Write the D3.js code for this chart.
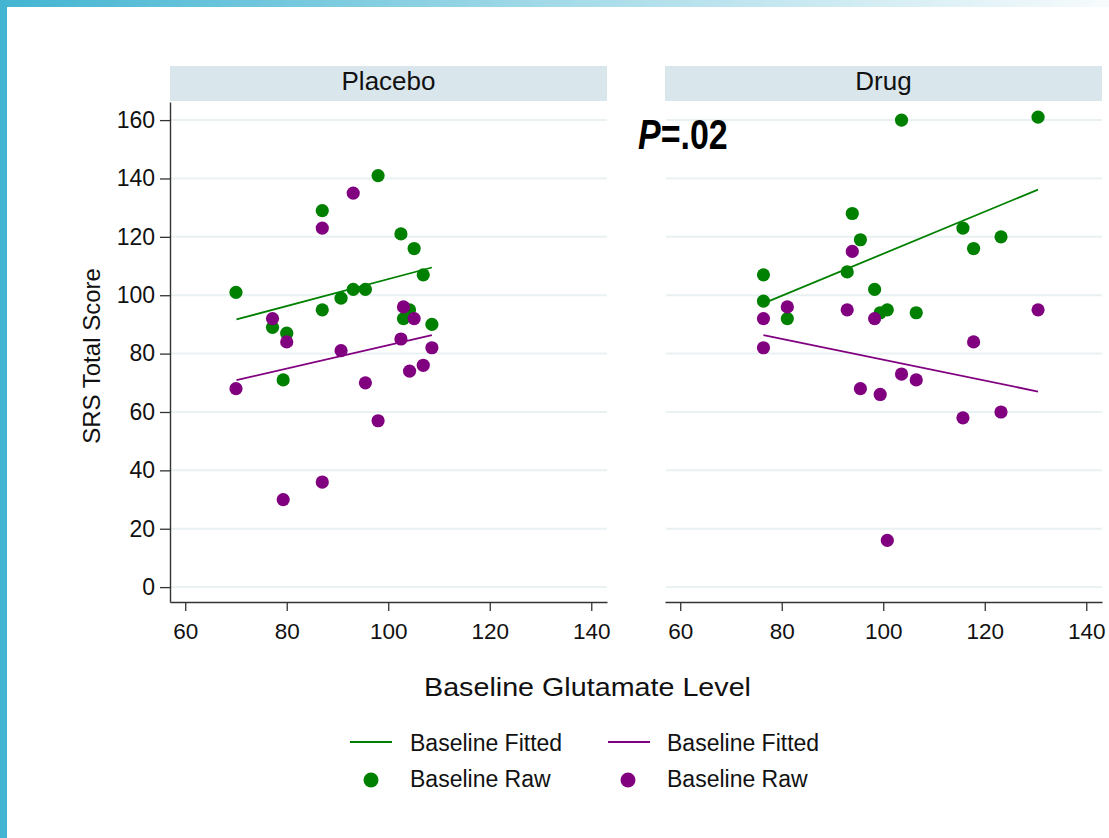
<!DOCTYPE html>
<html>
<head>
<meta charset="utf-8">
<script src="https://cdn.jsdelivr.net/npm/d3@7"></script>
<style>
  html, body { margin: 0; padding: 0; background: #ffffff; }
  svg { display: block; font-family: "Liberation Sans", Arial, Helvetica, sans-serif; }
</style>
</head>
<body>
<svg id="chart" width="1109" height="838"></svg>
<script>
// Panels and axis ticks
const panels = ["Placebo", "Drug"];
const yTicks = [0, 20, 40, 60, 80, 100, 120, 140, 160];
const xTicks = [60, 80, 100, 120, 140];

// Placebo group: baseline glutamate level vs SRS total score
const placeboGreenX = [70.0, 77.2, 79.3, 80.0, 87.0, 87.0, 90.7, 93.1, 95.5, 98.0, 102.5, 103.0, 104.2, 105.1, 106.9, 108.6];
const placeboGreenY = [101, 89, 71, 87, 95, 129, 99, 102, 102, 141, 121, 92, 95, 116, 107, 90];
const placeboPurpleX = [70.0, 77.2, 79.3, 80.0, 87.0, 87.0, 90.7, 93.1, 95.5, 98.0, 102.5, 103.0, 104.2, 105.1, 106.9, 108.6];
const placeboPurpleY = [68, 92, 30, 84, 123, 36, 81, 135, 70, 57, 85, 96, 74, 92, 76, 82];

// Drug group
const drugGreenX = [76.4, 76.4, 81.1, 92.9, 93.9, 95.5, 98.3, 99.4, 100.8, 103.6, 106.5, 115.7, 117.8, 123.2, 130.5];
const drugGreenY = [107, 98, 92, 108, 128, 119, 102, 94, 95, 160, 94, 123, 116, 120, 161];
const drugPurpleX = [76.4, 76.4, 81.1, 92.9, 93.9, 95.5, 98.3, 99.4, 100.8, 103.6, 106.5, 115.7, 117.8, 123.2, 130.5];
const drugPurpleY = [92, 82, 96, 95, 115, 68, 92, 66, 16, 73, 71, 58, 84, 60, 95];

// Fitted lines: [x0, y0, x1, y1]
const placeboGreenFit = [70.1, 91.7, 108.6, 109.5];
const placeboPurpleFit = [70.1, 70.9, 108.6, 86.3];
const drugGreenFit = [76.4, 97.2, 130.5, 136.2];
const drugPurpleFit = [76.4, 86.3, 130.5, 67.0];

const legendLabels = ["Baseline Fitted", "Baseline Raw"];
const pValueText = ["P", "=.02"];

const GREEN = "#008000";
const PURPLE = "#800080";

const svg = d3.select("#chart");

// Frame: accent bar on the left and a fading band across the top
const defs = svg.append("defs");
const grad = defs.append("linearGradient").attr("id", "topband").attr("x1", "0").attr("x2", "1");
grad.append("stop").attr("offset", "0").attr("stop-color", "#43b5d2");
grad.append("stop").attr("offset", "0.5").attr("stop-color", "#a3dae8");
grad.append("stop").attr("offset", "1").attr("stop-color", "#f7fbfc");
svg.append("rect").attr("x", 0).attr("y", 0).attr("width", 1109).attr("height", 7).attr("fill", "url(#topband)");
svg.append("rect").attr("x", 0).attr("y", 0).attr("width", 7).attr("height", 838).attr("fill", "#43b5d2");

const panelData = [
  { name: panels[0], range: [170, 607],
    series: [
      { x: placeboGreenX, y: placeboGreenY, color: GREEN, fit: placeboGreenFit },
      { x: placeboPurpleX, y: placeboPurpleY, color: PURPLE, fit: placeboPurpleFit }
    ] },
  { name: panels[1], range: [665, 1102],
    series: [
      { x: drugGreenX, y: drugGreenY, color: GREEN, fit: drugGreenFit },
      { x: drugPurpleX, y: drugPurpleY, color: PURPLE, fit: drugPurpleFit }
    ] }
];

const plotTop = 102, plotBottom = 602;
const y = d3.scaleLinear().domain([-5.1, 166.2]).range([plotBottom, plotTop]);

panelData.forEach((p, i) => {
  const x = d3.scaleLinear().domain([57, 143.1]).range(p.range);
  const g = svg.append("g");

  // strip header
  g.append("rect")
    .attr("x", p.range[0]).attr("y", 66)
    .attr("width", p.range[1] - p.range[0]).attr("height", 35)
    .attr("fill", "#d9e6ec");
  g.append("text")
    .attr("x", (p.range[0] + p.range[1]) / 2).attr("y", 90)
    .attr("text-anchor", "middle")
    .attr("font-size", 26).attr("fill", "#111")
    .text(p.name);

  // horizontal gridlines
  g.append("g").selectAll("line").data(yTicks).join("line")
    .attr("x1", p.range[0] + 1).attr("x2", p.range[1])
    .attr("y1", d => y(d)).attr("y2", d => y(d))
    .attr("stroke", "#e9f1f3").attr("stroke-width", 2);

  // x axis
  const xAxis = g.append("g")
    .attr("transform", `translate(0,${plotBottom})`)
    .call(d3.axisBottom(x).tickValues(xTicks).tickSize(9).tickSizeOuter(0).tickPadding(12));
  xAxis.select(".domain").attr("stroke", "#333").attr("stroke-width", 1.4);
  xAxis.selectAll(".tick line").attr("stroke", "#333").attr("stroke-width", 1.3);
  xAxis.selectAll(".tick text").attr("font-size", 22.5).attr("fill", "#111")
    .attr("font-family", "'Liberation Sans', Arial, sans-serif");

  // y axis only on the first panel
  if (i === 0) {
    const yAxis = g.append("g")
      .attr("transform", `translate(${p.range[0]},0)`)
      .call(d3.axisLeft(y).tickValues(yTicks).tickSize(10).tickSizeOuter(0).tickPadding(5));
    yAxis.select(".domain").attr("stroke", "#333").attr("stroke-width", 1.4);
    yAxis.selectAll(".tick line").attr("stroke", "#333").attr("stroke-width", 1.3);
    yAxis.selectAll(".tick text").attr("font-size", 23).attr("fill", "#111")
      .attr("font-family", "'Liberation Sans', Arial, sans-serif");
  }

  // fitted lines
  p.series.forEach(s => {
    g.append("line")
      .attr("x1", x(s.fit[0])).attr("y1", y(s.fit[1]))
      .attr("x2", x(s.fit[2])).attr("y2", y(s.fit[3]))
      .attr("stroke", s.color).attr("stroke-width", 1.8);
  });

  // raw points, green first then purple
  p.series.forEach(s => {
    g.append("g").selectAll("circle").data(d3.range(s.x.length)).join("circle")
      .attr("cx", j => x(s.x[j])).attr("cy", j => y(s.y[j]))
      .attr("r", 6.6).attr("fill", s.color);
  });
});

// P-value annotation
const pText = svg.append("text")
  .attr("transform", "translate(638,149) scale(0.79,1)")
  .attr("font-size", 43).attr("font-weight", "bold").attr("fill", "#000");
pText.append("tspan").attr("font-style", "italic").text(pValueText[0]);
pText.append("tspan").text(pValueText[1]);

// axis titles
svg.append("text")
  .attr("transform", "translate(100,356) rotate(-90)")
  .attr("text-anchor", "middle").attr("font-size", 24).attr("fill", "#111")
  .text("SRS Total Score");
svg.append("text")
  .attr("x", 424).attr("y", 696)
  .attr("font-size", 25.5).attr("fill", "#111")
  .attr("textLength", 327).attr("lengthAdjust", "spacingAndGlyphs")
  .text("Baseline Glutamate Level");

// legend
const legendCols = [{ color: GREEN, lx: 350, cx: 371, tx: 410 }, { color: PURPLE, lx: 608, cx: 628, tx: 667 }];
legendCols.forEach(c => {
  svg.append("line")
    .attr("x1", c.lx).attr("x2", c.lx + 42).attr("y1", 742).attr("y2", 742)
    .attr("stroke", c.color).attr("stroke-width", 1.8);
  svg.append("text").attr("x", c.tx).attr("y", 750.5)
    .attr("font-size", 23).attr("fill", "#111").text(legendLabels[0]);
  svg.append("circle").attr("cx", c.cx).attr("cy", 780).attr("r", 7.5).attr("fill", c.color);
  svg.append("text").attr("x", c.tx).attr("y", 787)
    .attr("font-size", 23).attr("fill", "#111").text(legendLabels[1]);
});
</script>
</body>
</html>
